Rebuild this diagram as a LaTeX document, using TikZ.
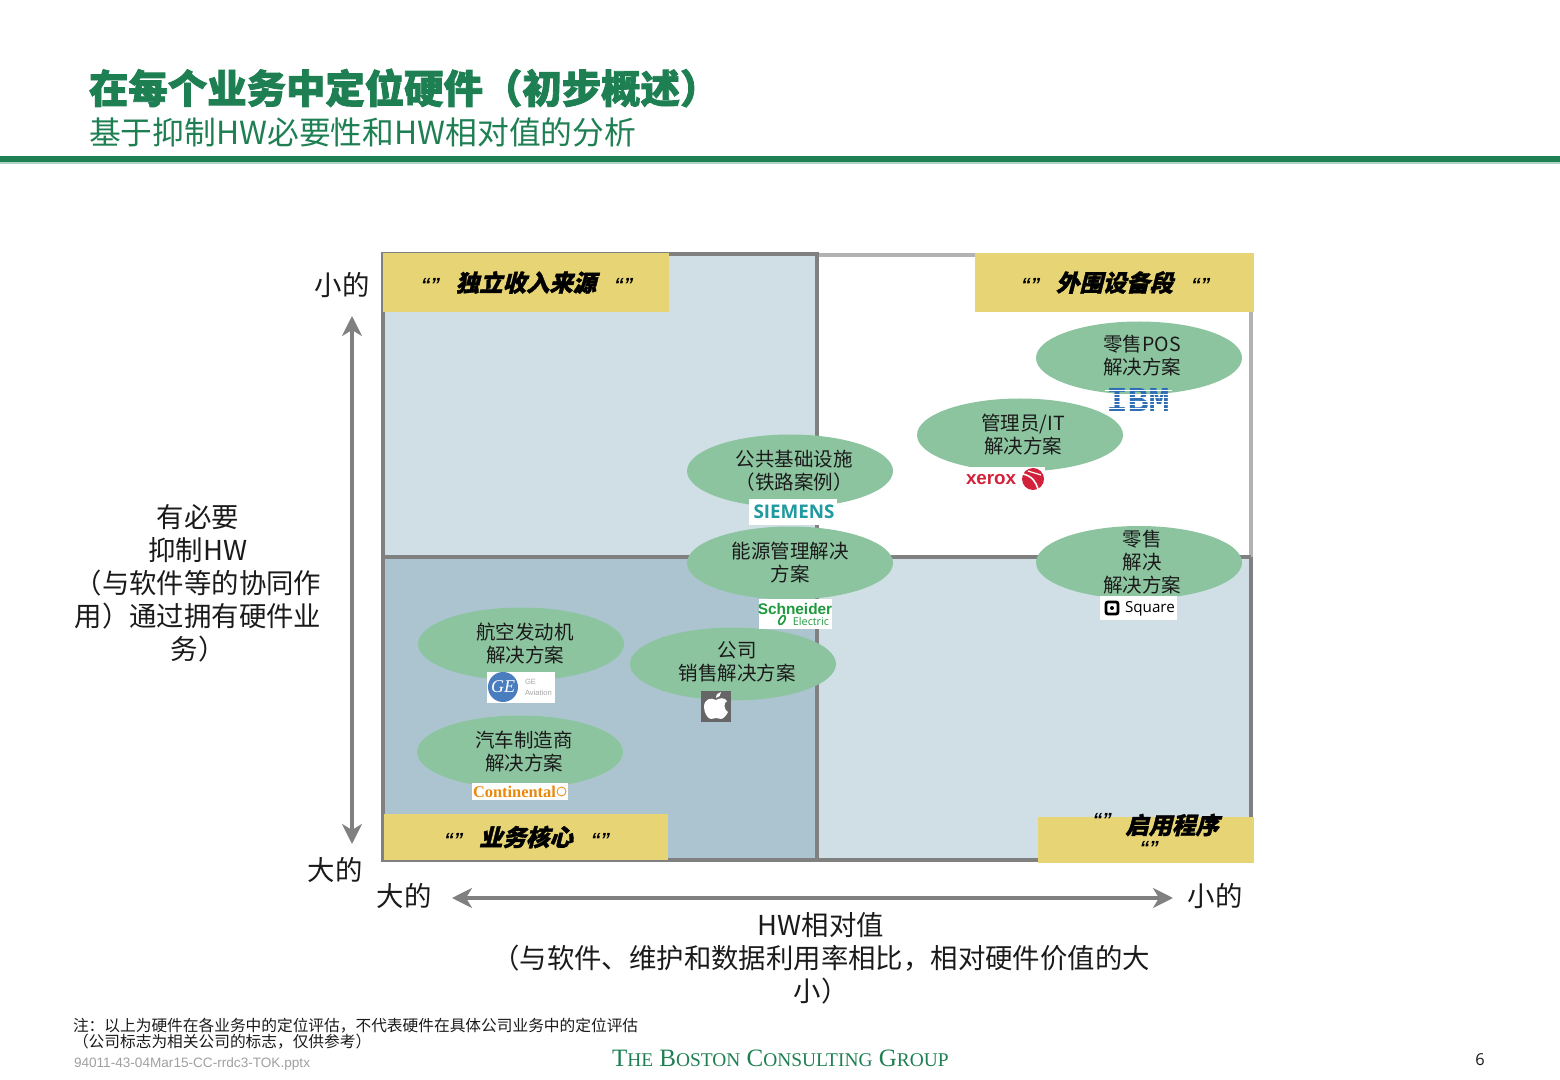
\documentclass[tikz,border=0pt]{standalone}
\usepackage{fontspec}
\usetikzlibrary{shapes.geometric,arrows.meta}
\setmainfont{Noto Sans CJK SC}
\newfontfamily\bandf[FakeSlant=0.25,FakeBold=1.5]{Noto Sans CJK SC}
\newfontfamily\titlef[FakeBold=2]{Noto Sans CJK SC}
\newfontfamily\latinf{Liberation Sans}
\newfontfamily\quotef[FakeSlant=0.2]{Liberation Sans}
\newfontfamily\serf{Liberation Serif}
\newfontfamily\monof{Liberation Mono}
\newfontfamily\logof{Open Sans}
\newcommand{\fsz}[2]{\fontsize{#1pt}{#2pt}\selectfont}
\newcommand{\qqm}{{\quotef\bfseries\fsz{9.5}{10}“”}}
\definecolor{bcggreen}{HTML}{1E7F53}
\definecolor{quadlight}{HTML}{D0DFE6}
\definecolor{quaddark}{HTML}{ABC4CF}
\definecolor{linedark}{HTML}{808080}
\definecolor{linelight}{HTML}{B2B2B2}
\definecolor{bandyellow}{HTML}{E6D475}
\definecolor{ellgreen}{HTML}{8DC4A0}
\definecolor{txtdark}{HTML}{1A1A1A}
\definecolor{ibmblue}{HTML}{2F6DB5}
\definecolor{geblue}{HTML}{4A7DBE}
\definecolor{schgreen}{HTML}{1E9A3C}
\definecolor{siemteal}{HTML}{1F9AA0}
\definecolor{contorange}{HTML}{E8890C}
\definecolor{xeroxred}{HTML}{D3213A}
\tikzset{
  x=0.5pt,y=-0.5pt,
  every node/.style={inner sep=0pt,outer sep=0pt},
  quad/.style={line width=2pt},
  band/.style={fill=bandyellow,draw=none,align=center,text=black,font=\bandf\bfseries\fsz{11.7}{14}},
  blob/.style={ellipse,fill=ellgreen,draw=none,minimum width=103pt,minimum height=36.5pt},
  blobtext/.style={align=center,text=txtdark,font=\fsz{9.75}{11.5}},
  biglabel/.style={align=center,text=txtdark,font=\fsz{13.7}{16.5}},
  logobox/.style={fill=white,draw=none},
  axis/.style={line width=2pt,draw=linedark,{Stealth[length=10pt,width=10pt,inset=3pt]}-{Stealth[length=10pt,width=10pt,inset=3pt]}},
}
\begin{document}
\begin{tikzpicture}
\useasboundingbox (0,0) rectangle (1560,1080);
% title
\node[anchor=west,text=bcggreen,font=\titlef\bfseries\fsz{19.7}{22}] (title) at (89,88) {在每个业务中定位硬件（初步概述）};
\node[anchor=west,text=bcggreen,font=\fsz{15.9}{18}] (subtitle) at (89,132) {基于抑制HW必要性和HW相对值的分析};
\fill[bcggreen] (0,156) rectangle (1560,162);
\fill[bcggreen!35] (0,162) rectangle (1560,164);
% quadrants
\fill[quadlight] (383,254) rectangle (817,557);
\fill[quaddark] (383,557) rectangle (817,860);
\fill[white] (817,254) rectangle (1251,557);
\fill[quadlight] (817,557) rectangle (1251,860);
\draw[quad,linelight] (817,255) -- (1251,255) -- (1251,557);
\draw[quad,linedark] (1251,557) -- (1251,860) -- (383,860) -- (383,254) -- (817,254) -- (817,860);
\draw[quad,linedark] (383,557) -- (1251,557);
% bands
\node[band,minimum width=143pt,minimum height=29.5pt] (b1) at (526,282.5) {\qqm\hspace{8.5pt}独立收入来源\hspace{8.5pt}\qqm};
\node[band,minimum width=139.5pt,minimum height=29.5pt] (b2) at (1114.5,282.5) {\qqm\hspace{8.5pt}外围设备段\hspace{8.5pt}\qqm};
\node[band,minimum width=142pt,minimum height=23pt] (b3) at (526,837) {\qqm\hspace{8.5pt}业务核心\hspace{8.5pt}\qqm};
\node[band,minimum width=108pt,minimum height=23pt] (b4) at (1146,840) {};
\node[text=black,font=\bandf\bfseries\fsz{11.7}{14}] (b4a) at (1172,825) {启用程序};
\node (b4q1) at (1101,820) {\qqm};
\node (b4q2) at (1148,848) {\qqm};
% ellipses
\node[blob] (e1) at (1139,358) {};
\node[blobtext] (t1) at (1142,356) {零售POS\\解决方案};
\node[blob] (e2) at (1020,435) {};
\node[blobtext] (t2) at (1023,435) {管理员/IT\\解决方案};
\node[blob] (e3) at (790,471) {};
\node[blobtext] (t3) at (794,471) {公共基础设施\\（铁路案例）};
\node[blob] (e4) at (790,563) {};
\node[blobtext] (t4) at (790,563) {能源管理解决\\方案};
\node[blob] (e5) at (521,644) {};
\node[blobtext] (t5) at (525,644) {航空发动机\\解决方案};
\node[blob] (e6) at (520,752) {};
\node[blobtext] (t6) at (524,752) {汽车制造商\\解决方案};
\node[blob] (e7) at (733,664) {};
\node[blobtext] (t7) at (737,662) {公司\\销售解决方案};
\node[blob] (e8) at (1139,562.5) {};
\node[blobtext] (t8) at (1142,562) {零售\\解决\\解决方案};
% IBM logo
\node[text=ibmblue,font=\monof\bfseries\fsz{17.5}{18}] (ibm) at (1138,400) {IBM};
\foreach \yy in {390.5,394,397.5,401,404.5,408} {\draw[white,line width=0.35pt] (1105,\yy) -- (1172,\yy);}
% Xerox logo
\fill[white] (963,467) rectangle (1045,490);
\node[text=xeroxred,font=\latinf\bfseries\fsz{9.4}{10},anchor=west] (xerox) at (966,480) {xerox};
\fill[xeroxred] (1033,479) circle (11);
\draw[white,line width=0.8pt] (1023,474) .. controls (1032,476) and (1036,482) .. (1038,489);
\draw[white,line width=0.6pt] (1028,471) -- (1041,475);
% Siemens logo
\node[logobox,minimum width=44pt,minimum height=13pt] (sbox) at (793,512) {};
\node[text=siemteal,font=\logof\bfseries\fsz{9.4}{10}] (siemens) at (794,512) {SIEMENS};
% Schneider logo
\node[logobox,minimum width=36.5pt,minimum height=15pt] (schbox) at (795.5,614) {};
\node[text=schgreen,font=\latinf\bfseries\fsz{7.7}{8}] (sch) at (795,609) {Schneider};
\node[text=schgreen,font=\logof\fsz{5.4}{6}] (elec) at (811,621) {Electric};
\draw[schgreen,line width=0.8pt,rotate around={60:(782,620)}] (782,620) ellipse (5 and 2.6);
% GE logo
\node[logobox,minimum width=34pt,minimum height=15.5pt] (gebox) at (521,687.5) {};
\fill[geblue] (503,687) circle (15);
\node[text=white,font=\serf\itshape\fsz{9}{9}] (ge) at (503,687) {GE};
\node[text=gray!70,font=\latinf\fsz{3.8}{5.6},anchor=west] (geav1) at (525,682) {GE};
\node[text=gray!70,font=\latinf\fsz{3.8}{5.6},anchor=west] (geav2) at (525,692.5) {Aviation};
% Apple logo
\node[fill=black!60,minimum width=15pt,minimum height=15.5pt] (applebox) at (716,706.5) {};
\fill[white] (716,700) .. controls (711,697) and (704,699) .. (704,707) .. controls (704,713) and (708,719) .. (711,719) .. controls (713,719) and (714,718) .. (716,718) .. controls (718,718) and (719,719) .. (721,719) .. controls (724,719) and (727,714) .. (728,712) .. controls (724,710) and (723,703) .. (727,701) .. controls (724,697) and (720,698) .. (716,700) -- cycle;
\fill[white] (716,698) .. controls (716,694) and (718,693) .. (721,692) .. controls (721,695) and (719,698) .. (716,698) -- cycle;
% Continental logo
\node[logobox,minimum width=48pt,minimum height=8.5pt] (cbox) at (520,791.5) {};
\node[text=contorange,font=\serf\bfseries\fsz{8.2}{9},anchor=west] (cont) at (473,791.5) {Continental};
\draw[contorange,line width=0.4pt] (561.5,791.5) circle (4.5);
% Square logo
\node[logobox,minimum width=38.5pt,minimum height=12pt] (sqbox) at (1138.5,608) {};
\draw[black,line width=1.4pt,rounded corners=1pt] (1106,602) rectangle (1118,614);
\fill[black] (1112,608) circle (2);
\node[text=black,font=\logof\fsz{7.6}{9},anchor=west] (sq) at (1125,609) {Square};
% axis labels
\coordinate (ytop) at (352,316);
\coordinate (ybot) at (352,844);
\coordinate (xleft) at (452,898);
\coordinate (xright) at (1173,898);
\draw[axis] (ytop) -- (ybot);
\draw[axis] (xleft) -- (xright);
\node[biglabel] (ysmall) at (342,285) {小的};
\node[biglabel] (ybig) at (335,870) {大的};
\node[biglabel] (xbig) at (404,896) {大的};
\node[biglabel] (xsmall) at (1215,896) {小的};
\node[biglabel] (ylab) at (198,583) {有必要\\抑制HW\\（与软件等的协同作\\用）通过拥有硬件业\\务）};
\node[biglabel] (xlab) at (821,958) {HW相对值\\（与软件、维护和数据利用率相比，相对硬件价值的大\\小）};
% footer
\node[anchor=west,text=txtdark,font=\fsz{7.85}{8}] (fn1) at (73,1026) {注：以上为硬件在各业务中的定位评估，不代表硬件在具体公司业务中的定位评估};
\node[anchor=west,text=txtdark,font=\fsz{7.85}{8}] (fn2) at (73,1042) {（公司标志为相关公司的标志，仅供参考）};
\node[anchor=west,text=gray!75,font=\latinf\fsz{6.8}{8}] (code) at (74,1064) {94011-43-04Mar15-CC-rrdc3-TOK.pptx};
\node[anchor=west,text=bcggreen,font=\serf] (bcg) at (612,1058) {\fsz{12.5}{13}T{\fsz{9.7}{13}HE} B{\fsz{9.7}{13}OSTON} C{\fsz{9.7}{13}ONSULTING} G{\fsz{9.7}{13}ROUP}};
\node[text=txtdark,font=\logof\fsz{8.2}{9}] (pnum) at (1480,1060) {6};
\end{tikzpicture}
\end{document}
